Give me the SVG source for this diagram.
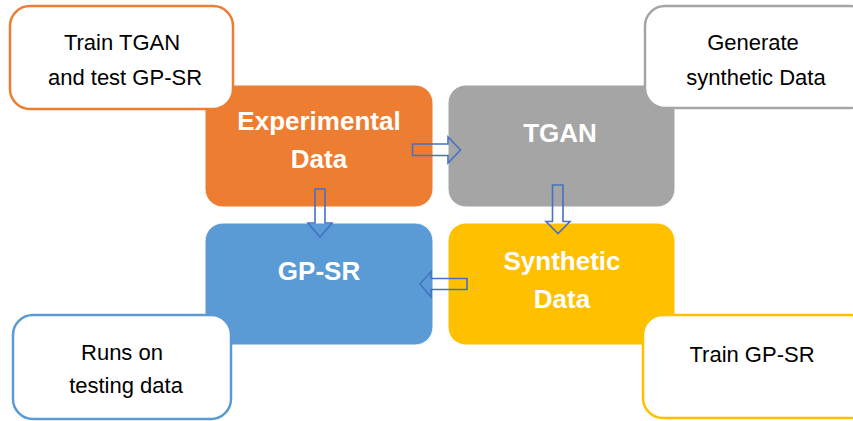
<svg xmlns="http://www.w3.org/2000/svg" width="853" height="421" viewBox="0 0 853 421">
  <style>
    .box { stroke: #ffffff; stroke-width: 1; }
    .note { fill: #ffffff; stroke-width: 2.5; }
    .main { font-family: "Liberation Sans", Arial, sans-serif; font-weight: bold; font-size: 26px; fill: #ffffff; text-anchor: middle; }
    .label { font-family: "Liberation Sans", Arial, sans-serif; font-size: 22px; fill: #000000; text-anchor: middle; }
    .arrow { fill: none; stroke: #4472C4; stroke-width: 1.6; stroke-linejoin: miter; }
  </style>
  <rect width="853" height="421" fill="#ffffff"/>

  <!-- main process blocks -->
  <g id="experimental-data">
    <rect class="box" x="205" y="85" width="228" height="122" rx="18" fill="#ED7D31"/>
    <text class="main" x="319" y="130">Experimental</text>
    <text class="main" x="319" y="168">Data</text>
  </g>
  <g id="tgan">
    <rect class="box" x="448" y="85" width="227" height="122" rx="18" fill="#A5A5A5"/>
    <text class="main" x="560" y="142">TGAN</text>
  </g>
  <g id="gp-sr">
    <rect class="box" x="205" y="223" width="228" height="122" rx="18" fill="#5B9BD5"/>
    <text class="main" x="319" y="280">GP-SR</text>
  </g>
  <g id="synthetic-data">
    <rect class="box" x="448" y="223" width="227" height="122" rx="18" fill="#FFC000"/>
    <text class="main" x="562" y="270">Synthetic</text>
    <text class="main" x="562" y="308">Data</text>
  </g>

  <!-- callout notes -->
  <g id="note-train-tgan">
    <rect class="note" x="10" y="6" width="223" height="103" rx="20" stroke="#ED7D31"/>
    <text class="label" x="122" y="50">Train TGAN</text>
    <text class="label" x="125" y="85">and test GP-SR</text>
  </g>
  <g id="note-generate">
    <rect class="note" x="645" y="6" width="225" height="102" rx="20" stroke="#A5A5A5"/>
    <text class="label" x="753" y="50">Generate</text>
    <text class="label" x="756" y="85">synthetic Data</text>
  </g>
  <g id="note-runs">
    <rect class="note" x="13" y="315" width="218" height="104" rx="20" stroke="#5B9BD5"/>
    <text class="label" x="122" y="360">Runs on</text>
    <text class="label" x="126" y="393">testing data</text>
  </g>
  <g id="note-train-gpsr">
    <rect class="note" x="643" y="315" width="227" height="103" rx="20" stroke="#FFC000"/>
    <text class="label" x="752" y="362">Train GP-SR</text>
  </g>

  <!-- connectors: outlined block arrows -->
  <g id="connectors">
    <path class="arrow" d="M412.5,144 H448 V137 L460.5,150 L448,163 V155.5 H412.5 Z"/>
    <path class="arrow" d="M315,189 H325 V223 H332 L320,237 L308,223 H315 Z"/>
    <path class="arrow" d="M552.5,185 H563 V221.5 H570 L558,233.5 L546,221.5 H552.5 Z"/>
    <path class="arrow" d="M467,278.5 V289.5 H431 V297 L420,284 L431,271.5 V278.5 Z"/>
  </g>
</svg>
